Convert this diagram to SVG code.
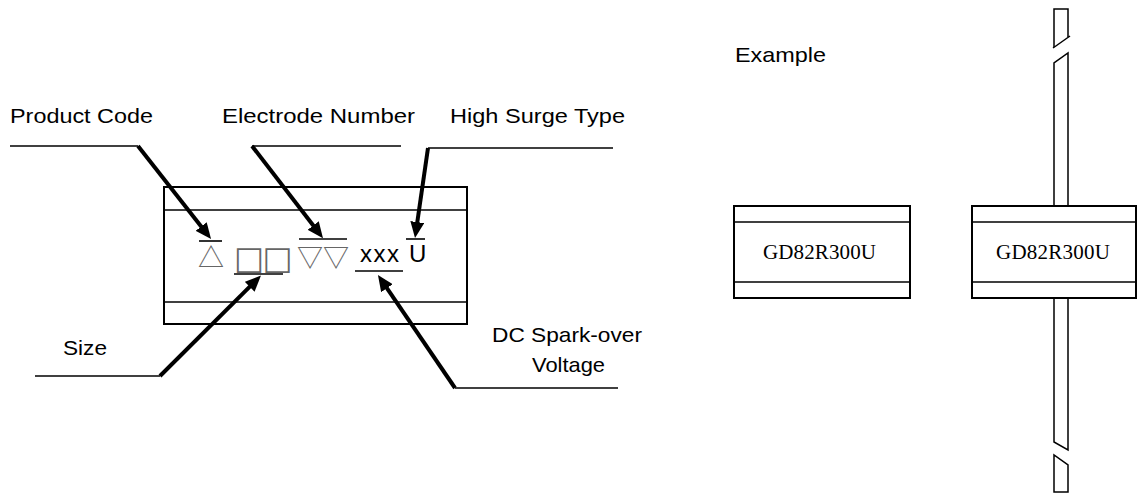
<svg xmlns="http://www.w3.org/2000/svg" width="1138" height="493" viewBox="0 0 1138 493">
<defs>
<style>
.lbl{font-family:"Liberation Sans",Arial,sans-serif;font-size:21px;fill:#000}
.code{font-family:"Liberation Serif","Times New Roman",serif;font-size:21px;fill:#000}
.sym{font-family:"Noto Sans CJK JP","DejaVu Sans",sans-serif;font-size:26px;fill:#666}
.sq{font-family:"DejaVu Sans",sans-serif;font-size:32px;fill:#666;letter-spacing:-1.8px}
.big{font-family:"Liberation Sans",Arial,sans-serif;font-size:24px;fill:#000}
.box{fill:#fff;stroke:#000;stroke-width:2}
.thin{stroke:#000;stroke-width:1.6;fill:none}
.lead{stroke:#000;stroke-width:1.5;fill:none}
.arrow{stroke:#000;stroke-width:4;fill:none;marker-end:url(#ah)}
</style>
<marker id="ah" viewBox="0 0 16 14" refX="7" refY="7" markerWidth="16" markerHeight="14" markerUnits="userSpaceOnUse" orient="auto">
<path d="M0,0 L16,7 L0,14 z" fill="#000"/>
</marker>
</defs>
<rect width="1138" height="493" fill="#fff"/>

<g id="marking-box">
<rect class="box" x="164" y="187" width="303" height="137"/>
<line class="thin" x1="164" y1="210" x2="467" y2="210"/>
<line class="thin" x1="164" y1="302" x2="467" y2="302"/>
<text class="sym" x="198" y="267">△</text>
<text class="sq" x="234" y="269">□□</text>
<text class="sym" x="297" y="267">▽▽</text>
<text class="big" x="360" y="262" textLength="39" lengthAdjust="spacing">xxx</text>
<text class="big" x="409" y="262">U</text>
<line class="thin" x1="199" y1="241" x2="222" y2="241"/>
<line class="thin" x1="234" y1="274" x2="283" y2="274"/>
<line class="thin" x1="299" y1="239" x2="347" y2="239"/>
<line class="thin" x1="355" y1="271" x2="403" y2="271"/>
<line class="thin" x1="406" y1="239" x2="425" y2="239"/>
</g>

<g id="label-product-code">
<text class="lbl" x="10" y="123" textLength="143" lengthAdjust="spacingAndGlyphs">Product Code</text>
</g>
<g id="label-electrode-number">
<text class="lbl" x="222" y="123" textLength="193" lengthAdjust="spacingAndGlyphs">Electrode Number</text>
</g>
<g id="label-high-surge">
<text class="lbl" x="450" y="123" textLength="175" lengthAdjust="spacingAndGlyphs">High Surge Type</text>
</g>
<g id="label-size">
<text class="lbl" x="63" y="355" textLength="44" lengthAdjust="spacingAndGlyphs">Size</text>
</g>
<g id="label-dc">
<text class="lbl" x="492" y="342" textLength="150" lengthAdjust="spacingAndGlyphs">DC Spark-over</text>
<text class="lbl" x="532" y="372" textLength="73" lengthAdjust="spacingAndGlyphs">Voltage</text>
</g>

<g id="connectors">
<line class="thin" x1="10" y1="146" x2="138" y2="146"/>
<line class="arrow" x1="138" y1="146" x2="205.5" y2="232"/>
<line class="thin" x1="252" y1="146" x2="401" y2="146"/>
<line class="arrow" x1="252" y1="146" x2="317.5" y2="231"/>
<line class="thin" x1="428" y1="148" x2="613" y2="148"/>
<line class="arrow" x1="428" y1="148" x2="416.3" y2="229"/>
<line class="thin" x1="35" y1="376" x2="160" y2="376"/>
<line class="arrow" x1="160" y1="376" x2="254.6" y2="281.8"/>
<line class="thin" x1="455" y1="388" x2="618" y2="388"/>
<line class="arrow" x1="455" y1="388" x2="383" y2="282.4"/>
</g>

<g id="label-example">
<text class="lbl" x="735" y="62" textLength="91" lengthAdjust="spacingAndGlyphs">Example</text>
</g>

<g id="example-smd">
<rect class="box" x="734" y="206" width="176" height="92"/>
<line class="thin" x1="734" y1="222" x2="910" y2="222"/>
<line class="thin" x1="734" y1="282" x2="910" y2="282"/>
<text class="code" x="763" y="259" textLength="113" lengthAdjust="spacing">GD82R300U</text>
</g>

<g id="example-leaded">
<path class="lead" d="M1054,47 L1054,9 L1068,9 L1068,37"/>
<line class="lead" x1="1053" y1="48" x2="1070" y2="36"/>
<path class="lead" d="M1054,206 L1054,63 L1068,53 L1068,206"/>
<path class="lead" d="M1054,298 L1054,442 L1068,450 L1068,298"/>
<path class="lead" d="M1068,492 L1068,465 L1054,455 L1054,492 Z"/>
<rect class="box" x="972" y="206" width="164" height="92"/>
<line class="thin" x1="972" y1="222" x2="1136" y2="222"/>
<line class="thin" x1="972" y1="282" x2="1136" y2="282"/>
<text class="code" x="996" y="259" textLength="114" lengthAdjust="spacing">GD82R300U</text>
</g>
</svg>
